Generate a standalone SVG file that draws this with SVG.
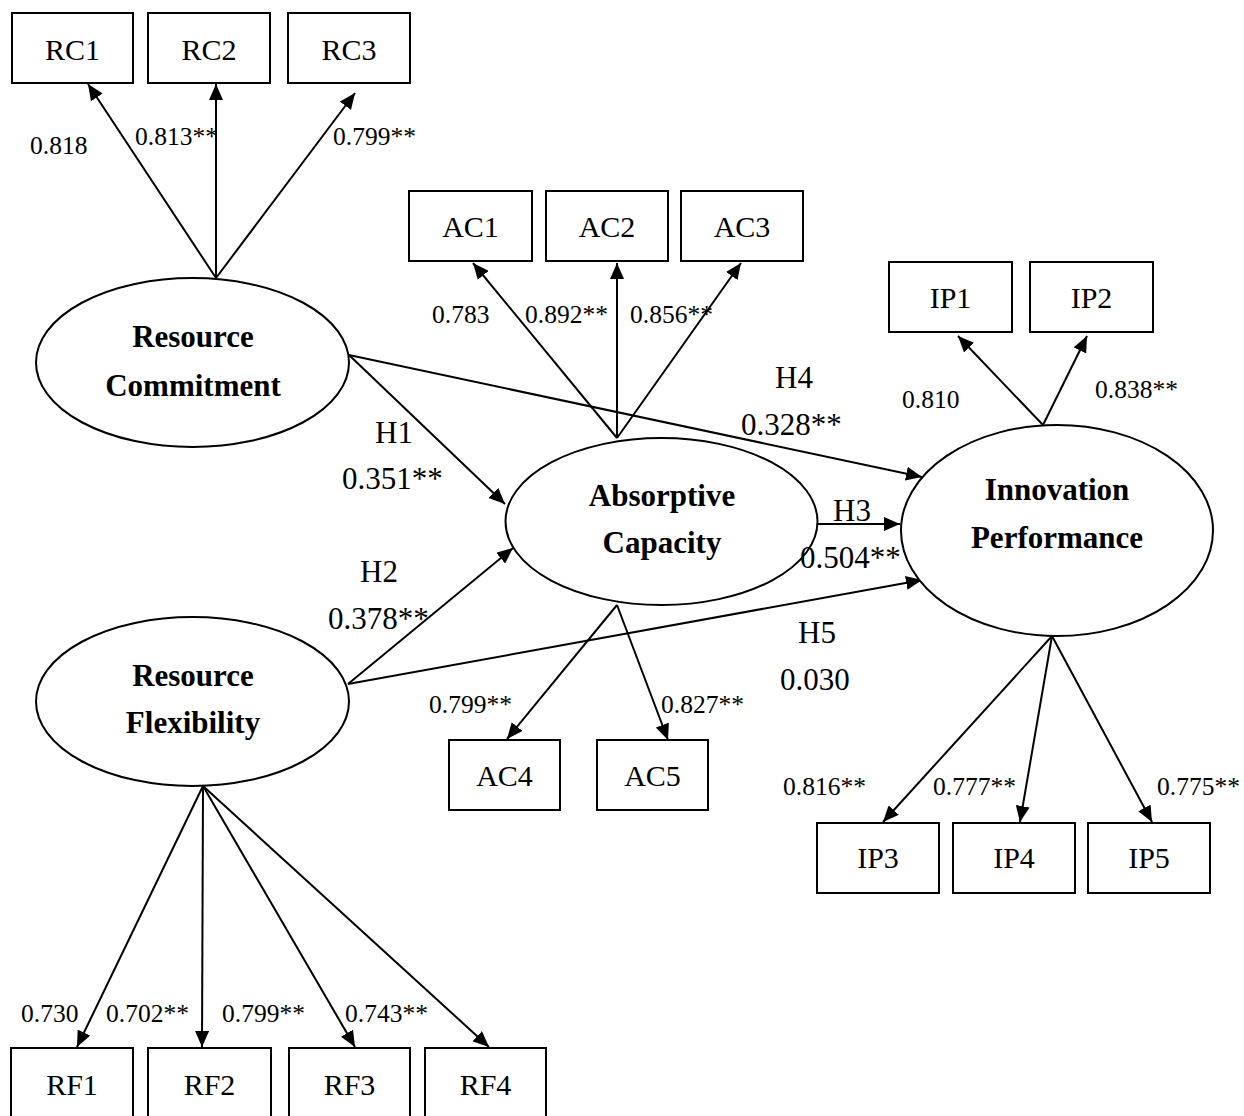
<svg xmlns="http://www.w3.org/2000/svg" width="1244" height="1116" viewBox="0 0 1244 1116">
<defs>
<style>
.box{fill:#fff;stroke:#000;stroke-width:2}
.ell{fill:#fff;stroke:#000;stroke-width:2}
.bt{font-family:"Liberation Serif",serif;font-size:30px;text-anchor:middle;fill:#000}
.et{font-family:"Liberation Serif",serif;font-size:31px;font-weight:bold;text-anchor:middle;fill:#000}
.ld{font-family:"Liberation Serif",serif;font-size:25.5px;fill:#000}
.pl{font-family:"Liberation Serif",serif;font-size:31px;fill:#000}
.cn line{stroke:#000;stroke-width:2;marker-end:url(#ah)}
</style>
<marker id="ah" markerUnits="userSpaceOnUse" markerWidth="17" markerHeight="14" refX="16" refY="7" orient="auto">
<path d="M0,0 L16,7 L0,14 z" fill="#000"/>
</marker>
</defs>
<rect width="1244" height="1116" fill="#fff"/>

<g id="connectors" class="cn">
<line x1="216" y1="278" x2="88" y2="84"/>
<line x1="216" y1="278" x2="216" y2="84"/>
<line x1="216" y1="278" x2="355" y2="93"/>
<line x1="617" y1="438" x2="473" y2="263"/>
<line x1="617" y1="438" x2="617" y2="263"/>
<line x1="617" y1="438" x2="741" y2="263"/>
<line x1="617" y1="605" x2="507" y2="739"/>
<line x1="617" y1="605" x2="668" y2="740"/>
<line x1="1043" y1="425" x2="958" y2="336"/>
<line x1="1043" y1="425" x2="1087" y2="336"/>
<line x1="1052" y1="636" x2="883" y2="822"/>
<line x1="1052" y1="636" x2="1020" y2="822"/>
<line x1="1052" y1="636" x2="1152" y2="822"/>
<line x1="203" y1="786" x2="77" y2="1047"/>
<line x1="203" y1="786" x2="202" y2="1047"/>
<line x1="203" y1="786" x2="355" y2="1047"/>
<line x1="203" y1="786" x2="489" y2="1047"/>
<line x1="349" y1="355" x2="505" y2="504"/>
<line x1="349" y1="355" x2="922" y2="477"/>
<line x1="348" y1="684" x2="513" y2="548"/>
<line x1="348" y1="684" x2="922" y2="580"/>
<line x1="818" y1="524" x2="900" y2="524"/>
</g>

<g id="RC1"><rect class="box" x="12" y="13" width="121" height="70"/><text class="bt" x="72.5" y="60">RC1</text></g>
<g id="RC2"><rect class="box" x="148" y="13" width="122" height="70"/><text class="bt" x="209" y="60">RC2</text></g>
<g id="RC3"><rect class="box" x="288" y="13" width="122" height="70"/><text class="bt" x="349" y="60">RC3</text></g>

<g id="AC1"><rect class="box" x="409" y="191" width="123" height="70"/><text class="bt" x="470.5" y="237">AC1</text></g>
<g id="AC2"><rect class="box" x="546" y="191" width="122" height="70"/><text class="bt" x="607" y="237">AC2</text></g>
<g id="AC3"><rect class="box" x="681" y="191" width="122" height="70"/><text class="bt" x="742" y="237">AC3</text></g>

<g id="IP1"><rect class="box" x="889" y="262" width="123" height="70"/><text class="bt" x="950.5" y="308">IP1</text></g>
<g id="IP2"><rect class="box" x="1030" y="262" width="123" height="70"/><text class="bt" x="1091.5" y="308">IP2</text></g>

<g id="AC4"><rect class="box" x="449" y="740" width="111" height="70"/><text class="bt" x="504.5" y="786">AC4</text></g>
<g id="AC5"><rect class="box" x="597" y="740" width="111" height="70"/><text class="bt" x="652.5" y="786">AC5</text></g>

<g id="IP3"><rect class="box" x="817" y="823" width="122" height="70"/><text class="bt" x="878" y="868">IP3</text></g>
<g id="IP4"><rect class="box" x="953" y="823" width="122" height="70"/><text class="bt" x="1014" y="868">IP4</text></g>
<g id="IP5"><rect class="box" x="1088" y="823" width="122" height="70"/><text class="bt" x="1149" y="868">IP5</text></g>

<g id="RF1"><rect class="box" x="11" y="1048" width="122" height="72"/><text class="bt" x="72" y="1095">RF1</text></g>
<g id="RF2"><rect class="box" x="148" y="1048" width="123" height="72"/><text class="bt" x="209.5" y="1095">RF2</text></g>
<g id="RF3"><rect class="box" x="289" y="1048" width="121" height="72"/><text class="bt" x="349.5" y="1095">RF3</text></g>
<g id="RF4"><rect class="box" x="425" y="1048" width="121" height="72"/><text class="bt" x="485.5" y="1095">RF4</text></g>

<g id="ResourceCommitment"><ellipse class="ell" cx="192.5" cy="362.5" rx="156.5" ry="84.5"/><text class="et" x="193" y="347">Resource</text><text class="et" x="193" y="396">Commitment</text></g>
<g id="ResourceFlexibility"><ellipse class="ell" cx="192.5" cy="701.5" rx="156.5" ry="84.5"/><text class="et" x="193" y="686">Resource</text><text class="et" x="193" y="733">Flexibility</text></g>
<g id="AbsorptiveCapacity"><ellipse class="ell" cx="661.5" cy="521.5" rx="156" ry="83.5"/><text class="et" x="662" y="506">Absorptive</text><text class="et" x="662" y="553">Capacity</text></g>
<g id="InnovationPerformance"><ellipse class="ell" cx="1057" cy="530.5" rx="156" ry="105.5"/><text class="et" x="1057" y="500">Innovation</text><text class="et" x="1057" y="548">Performance</text></g>

<g id="labels">
<text class="ld" x="30" y="154">0.818</text>
<text class="ld" x="135" y="145">0.813**</text>
<text class="ld" x="333" y="145">0.799**</text>
<text class="ld" x="432" y="323">0.783</text>
<text class="ld" x="525" y="323">0.892**</text>
<text class="ld" x="630" y="323">0.856**</text>
<text class="ld" x="902" y="408">0.810</text>
<text class="ld" x="1095" y="398">0.838**</text>
<text class="ld" x="429" y="713">0.799**</text>
<text class="ld" x="661" y="713">0.827**</text>
<text class="ld" x="783" y="795">0.816**</text>
<text class="ld" x="933" y="795">0.777**</text>
<text class="ld" x="1157" y="795">0.775**</text>
<text class="ld" x="21" y="1022">0.730</text>
<text class="ld" x="106" y="1022">0.702**</text>
<text class="ld" x="222" y="1022">0.799**</text>
<text class="ld" x="345" y="1022">0.743**</text>
<text class="pl" x="775" y="388">H4</text>
<text class="pl" x="741" y="435">0.328**</text>
<text class="pl" x="375" y="443">H1</text>
<text class="pl" x="342" y="489">0.351**</text>
<text class="pl" x="833" y="521">H3</text>
<text class="pl" x="800" y="568">0.504**</text>
<text class="pl" x="360" y="582">H2</text>
<text class="pl" x="328" y="629">0.378**</text>
<text class="pl" x="798" y="643">H5</text>
<text class="pl" x="780" y="690">0.030</text>
</g>
</svg>
